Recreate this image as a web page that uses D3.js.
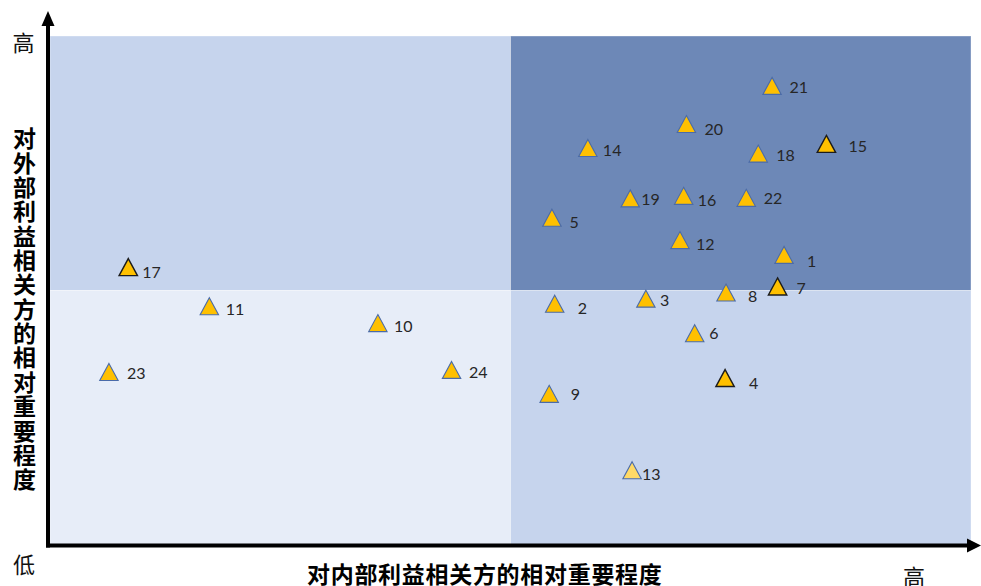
<!DOCTYPE html>
<html>
<head>
<meta charset="utf-8">
<script src="https://cdn.jsdelivr.net/npm/d3@7"></script>
<style>
  html, body { margin: 0; padding: 0; background: #fff; }
  svg { display: block; }
</style>
</head>
<body>
<svg id="chart" width="981" height="586"></svg>
<script>
// ---- data ----
const ids     = ["21","20","14","18","15","19","16","22","5","12","1","7","8","3","2","6","4","9","13","17","11","10","23","24"];
const xValues = [7.84,6.91,5.84,7.69,8.43,6.30,6.88,7.56,5.45,6.84,7.97,7.90,7.34,6.47,5.48,7.00,7.33,5.42,6.32,0.85,1.73,3.56,0.64,4.36];
const yValues = [9.02,8.27,7.80,7.69,7.88,6.81,6.86,6.82,6.43,5.99,5.70,5.08,4.96,4.84,4.74,4.16,3.28,2.97,1.47,5.46,4.69,4.36,3.40,3.44];
// marker outline type: "blue" (default), "dark", "light" (lighter fill)
const markerType = ["blue","blue","blue","blue","dark","blue","blue","blue","blue","blue","blue","dark","blue","blue","blue","blue","dark","blue","light","dark","blue","blue","blue","blue"];
// label offsets (px) relative to marker
const labelDx = [17.5,18,15,18,22,11,14,17.5,17.5,16,23,19,22,14,23,14.5,24,21.5,10,14,16.5,16,18,17.5];
const labelDy = [0.5,4,1.5,0.5,2,0,3.5,0,3.5,3,6,1,2.5,0.5,3.5,-0.5,4.5,0,3,4.5,2,2,1,1.5];

const xTitle = "对内部利益相关方的相对重要程度";
const yTitle = "对外部利益相关方的相对重要程度";
const lowLabel = "低";
const highLabel = "高";
const domainMax = 10;
const split = 5;

// ---- layout ----
const svg = d3.select("#chart");
const plotLeft = 50, plotRight = 971, plotTop = 36, plotBottom = 545;
const x = d3.scaleLinear().domain([0, domainMax]).range([plotLeft, plotRight]);
const y = d3.scaleLinear().domain([0, domainMax]).range([plotBottom, plotTop]);

// quadrants
const quads = [
  {x0: 0, x1: split, y0: split, y1: domainMax, fill: "#C6D4ED"},
  {x0: split, x1: domainMax, y0: split, y1: domainMax, fill: "#6D88B7"},
  {x0: 0, x1: split, y0: 0, y1: split, fill: "#E7EDF8"},
  {x0: split, x1: domainMax, y0: 0, y1: split, fill: "#C6D4ED"}
];
svg.append("g").selectAll("rect").data(quads).join("rect")
  .attr("x", d => x(d.x0))
  .attr("y", d => y(d.y1))
  .attr("width", d => x(d.x1) - x(d.x0))
  .attr("height", d => y(d.y0) - y(d.y1))
  .attr("fill", d => d.fill)
  .attr("stroke", "#ffffff")
  .attr("stroke-opacity", 0.35)
  .attr("stroke-width", 1);

// axes
const axisG = svg.append("g");
axisG.append("line")
  .attr("x1", 48).attr("y1", 547.5).attr("x2", 48).attr("y2", 24)
  .attr("stroke", "#000").attr("stroke-width", 4);
axisG.append("path")
  .attr("d", "M48,11 L54.5,26 L41.5,26 Z").attr("fill", "#000");
axisG.append("line")
  .attr("x1", 46).attr("y1", 545.5).attr("x2", 970).attr("y2", 545.5)
  .attr("stroke", "#000").attr("stroke-width", 4);
axisG.append("path")
  .attr("d", "M981,545.5 L967,538.5 L967,552.5 Z").attr("fill", "#000");

// markers
const pts = ids.map((id, i) => ({id, xv: xValues[i], yv: yValues[i], type: markerType[i], dx: labelDx[i], dy: labelDy[i]}));
const tri = "M0,-8.5 L9.2,8.5 L-9.2,8.5 Z";
const g = svg.append("g");
g.selectAll("path.m").data(pts).join("path")
  .attr("class", "m")
  .attr("d", tri)
  .attr("transform", d => `translate(${x(d.xv)},${y(d.yv)})`)
  .attr("fill", d => d.type === "light" ? "#FFD966" : "#FFC000")
  .attr("stroke", d => d.type === "dark" ? "#1c1c1c" : "#4A6BA9")
  .attr("stroke-width", d => d.type === "dark" ? 1.4 : 1.1)
  .attr("stroke-linejoin", "miter");

g.selectAll("text.lbl").data(pts).join("text")
  .attr("class", "lbl")
  .attr("x", d => x(d.xv) + d.dx)
  .attr("y", d => y(d.yv) + d.dy)
  .attr("dominant-baseline", "central")
  .attr("font-family", "Lato, 'Open Sans', sans-serif")
  .attr("font-size", 16)
  .attr("fill", "#262626")
  .text(d => d.id);

// titles
const cjk = "'Noto Sans CJK SC', 'Noto Sans', sans-serif";
svg.append("text")
  .attr("x", 24.5)
  .attr("y", 127)
  .attr("writing-mode", "tb")
  .style("writing-mode", "vertical-rl")
  .style("text-orientation", "upright")
  .attr("letter-spacing", 1.36)
  .attr("font-family", cjk)
  .attr("font-weight", 700)
  .attr("font-size", 23)
  .attr("fill", "#000")
  .text(yTitle);

svg.append("text")
  .attr("x", 307)
  .attr("y", 573)
  .attr("dominant-baseline", "central")
  .attr("letter-spacing", 0.7)
  .attr("font-family", cjk)
  .attr("font-weight", 700)
  .attr("font-size", 23)
  .attr("fill", "#000")
  .text(xTitle);

const plain = [
  {t: highLabel, x: 23.5, y: 40.5},
  {t: lowLabel, x: 24, y: 563},
  {t: highLabel, x: 914, y: 574.5}
];
svg.append("g").selectAll("text").data(plain).join("text")
  .attr("x", d => d.x).attr("y", d => d.y)
  .attr("text-anchor", "middle")
  .attr("dominant-baseline", "central")
  .attr("font-family", cjk)
  .attr("font-weight", 400)
  .attr("font-size", 22)
  .attr("fill", "#111")
  .text(d => d.t);
</script>
</body>
</html>
